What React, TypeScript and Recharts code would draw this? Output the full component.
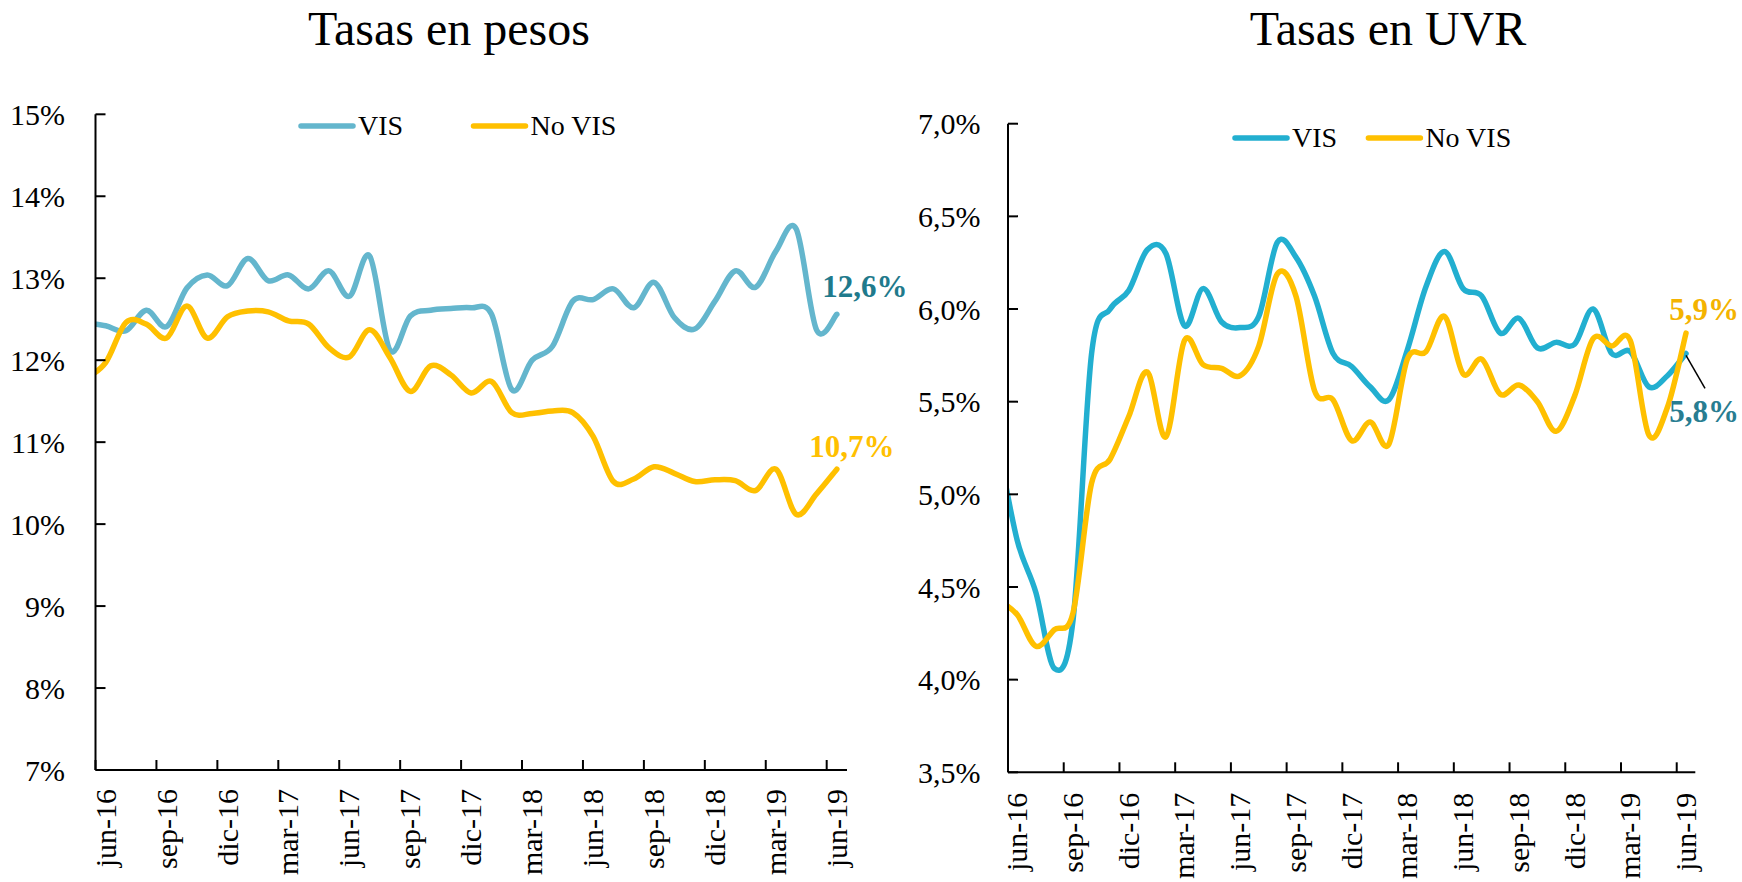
import React from 'react';
import { LineChart, Line, XAxis, YAxis, Legend } from 'recharts';

const FONT = "'Liberation Serif', serif";

// meses: may-16 solo existe para que la curva entre recortada por el eje
const months = [
  'may-16', 'jun-16', 'jul-16', 'ago-16', 'sep-16', 'oct-16', 'nov-16', 'dic-16',
  'ene-17', 'feb-17', 'mar-17', 'abr-17', 'may-17', 'jun-17', 'jul-17', 'ago-17', 'sep-17', 'oct-17', 'nov-17', 'dic-17',
  'ene-18', 'feb-18', 'mar-18', 'abr-18', 'may-18', 'jun-18', 'jul-18', 'ago-18', 'sep-18', 'oct-18', 'nov-18', 'dic-18',
  'ene-19', 'feb-19', 'mar-19', 'abr-19', 'may-19', 'jun-19',
];

const tickLabels = [
  'jun-16', 'sep-16', 'dic-16', 'mar-17', 'jun-17', 'sep-17', 'dic-17',
  'mar-18', 'jun-18', 'sep-18', 'dic-18', 'mar-19', 'jun-19',
];

const seriesNames = ['VIS', 'No VIS'];

// Tasas en pesos (%)
const visPesos = [
  12.46, 12.42, 12.36, 12.61, 12.41, 12.88, 13.04, 12.91,
  13.24, 12.97, 13.04, 12.87, 13.09, 12.78, 13.27, 12.12, 12.54, 12.61, 12.63, 12.64,
  12.56, 11.64, 12.0, 12.17, 12.72, 12.74, 12.87, 12.64, 12.95, 12.52, 12.38, 12.72,
  13.09, 12.89, 13.33, 13.6, 12.37, 12.56,
];
const noVisPesos = [
  11.77, 11.97, 12.46, 12.44, 12.27, 12.66, 12.27, 12.53,
  12.6, 12.59, 12.48, 12.44, 12.15, 12.04, 12.37, 12.03, 11.62, 11.93, 11.82, 11.6,
  11.74, 11.36, 11.35, 11.38, 11.36, 11.07, 10.52, 10.55, 10.7, 10.62, 10.52, 10.54,
  10.53, 10.41, 10.67, 10.12, 10.37, 10.67,
];

// Tasas en UVR (%)
const visUvr = [
  5.25, 4.75, 4.47, 4.06, 4.32, 5.76, 6.0, 6.1,
  6.32, 6.3, 5.91, 6.11, 5.93, 5.9, 5.96, 6.36, 6.28, 6.07, 5.76, 5.69,
  5.58, 5.51, 5.78, 6.12, 6.31, 6.11, 6.07, 5.87, 5.95, 5.79, 5.82, 5.81,
  6.0, 5.76, 5.77, 5.58, 5.64, 5.76,
];
const noVisUvr = [
  4.43, 4.35, 4.18, 4.27, 4.36, 5.06, 5.19, 5.42,
  5.66, 5.31, 5.83, 5.7, 5.68, 5.64, 5.8, 6.19, 6.07, 5.56, 5.51, 5.29,
  5.39, 5.27, 5.73, 5.77, 5.96, 5.65, 5.73, 5.54, 5.59, 5.5, 5.34, 5.53,
  5.84, 5.8, 5.83, 5.32, 5.47, 5.87,
];

const pesosTicks = [7, 8, 9, 10, 11, 12, 13, 14, 15];
const uvrTicks = [3.5, 4, 4.5, 5, 5.5, 6, 6.5, 7];

// cada mes ocupa una banda [k, k+1]; el dato va en el centro
const buildRows = (vis: number[], noVis: number[]) =>
  months.map((mes, i) => ({ mes, pos: i - 0.5, vis: vis[i], noVis: noVis[i] }));

const edgeTicks = tickLabels.map((_, j) => j * 3);

const comma = (v: number, d: number) => v.toFixed(d).replace('.', ',');

// suavizado tipo Excel (Catmull-Rom)
function excelCurve(context: any) {
  let pts: number[][] = [];
  return {
    areaStart() {},
    areaEnd() {},
    lineStart() {
      pts = [];
    },
    point(x: number, y: number) {
      pts.push([+x, +y]);
    },
    lineEnd() {
      const n = pts.length;
      if (!n) return;
      context.moveTo(pts[0][0], pts[0][1]);
      for (let i = 0; i < n - 1; i++) {
        const p0 = pts[Math.max(i - 1, 0)];
        const p1 = pts[i];
        const p2 = pts[i + 1];
        const p3 = pts[Math.min(i + 2, n - 1)];
        context.bezierCurveTo(
          p1[0] + (p2[0] - p0[0]) / 6,
          p1[1] + (p2[1] - p0[1]) / 6,
          p2[0] - (p3[0] - p1[0]) / 6,
          p2[1] - (p3[1] - p1[1]) / 6,
          p2[0],
          p2[1]
        );
      }
    },
  };
}

const MonthTick = (props: any) => {
  const { x, y, payload, half } = props;
  const cx = x + half;
  return (
    <text
      x={cx}
      y={y}
      dy={10}
      transform={`rotate(-90 ${cx} ${y})`}
      textAnchor="end"
      fontFamily={FONT}
      fontSize={30}
      fill="#000"
    >
      {tickLabels[Math.round(payload.value / 3)]}
    </text>
  );
};

const LegendBox = (props: any) => {
  const { payload, offsets } = props;
  // el orden de la leyenda sigue al de las series, no al alfabético
  const items = seriesNames
    .map((name) => (payload || []).find((e: any) => e.value === name))
    .filter(Boolean);
  return (
    <svg width={420} height={40} style={{ overflow: 'visible', display: 'block' }}>
      {items.map((e: any, i: number) => (
        <g key={e.value} transform={`translate(${offsets[i]},0)`}>
          <line x1={2} x2={54} y1={20} y2={20} stroke={e.color} strokeWidth={5.5} strokeLinecap="round" />
          <text x={59} y={29} fontFamily={FONT} fontSize={28} fill="#000">
            {e.value}
          </text>
        </g>
      ))}
    </svg>
  );
};

const endLabel = (color: string, dx: number, dy: number, leader?: boolean) => (props: any) => {
  const { index, value } = props;
  if (index !== months.length - 1) return null;
  const x = props.x ?? props.viewBox?.x;
  const y = props.y ?? props.viewBox?.y;
  return (
    <g>
      {leader && <line x1={x} y1={y + 2} x2={x + 19} y2={y + 35} stroke="#000" strokeWidth={1.5} />}
      <text x={x + dx} y={y + dy} textAnchor="middle" fontFamily={FONT} fontSize={31} fontWeight="bold" fill={color}>
        {comma(value, 1)}%
      </text>
    </g>
  );
};

const axisStroke = { stroke: '#000', strokeWidth: 2 };

export default function App() {
  const pesosRows = buildRows(visPesos, noVisPesos);
  const uvrRows = buildRows(visUvr, noVisUvr);

  return (
    <div style={{ position: 'absolute', left: 0, top: 0, width: 1742, height: 882, background: '#fff', overflow: 'hidden' }}>
      <svg width={1742} height={882} style={{ position: 'absolute', left: 0, top: 0 }}>
        <text x={449} y={45} textAnchor="middle" fontFamily={FONT} fontSize={48} fill="#000">
          Tasas en pesos
        </text>
        <text x={1388} y={45} textAnchor="middle" fontFamily={FONT} fontSize={48} fill="#000">
          Tasas en UVR
        </text>
      </svg>

      <div style={{ position: 'absolute', left: 0, top: 0 }}>
        <LineChart width={930} height={882} data={pesosRows} margin={{ top: 114.3, right: 83, bottom: 0, left: 5.5 }}>
          <XAxis
            dataKey="pos"
            type="number"
            domain={[0, 37]}
            allowDataOverflow
            ticks={edgeTicks}
            interval={0}
            height={112}
            tickSize={-10}
            tickMargin={29}
            axisLine={axisStroke}
            tickLine={axisStroke}
            tick={<MonthTick half={10.16} />}
          />
          <YAxis
            type="number"
            domain={[7, 15]}
            ticks={pesosTicks}
            interval={0}
            width={90}
            tickSize={-10}
            tickMargin={40.5}
            axisLine={axisStroke}
            tickLine={axisStroke}
            tick={{ fill: '#000', fontSize: 30, fontFamily: FONT }}
            tickFormatter={(v: number) => `${v}%`}
          />
          <Legend
            layout="horizontal"
            verticalAlign="middle"
            align="center"
            wrapperStyle={{ position: 'absolute', left: 299, top: 105.5, width: 420, height: 40 }}
            content={<LegendBox offsets={[0, 172.5]} />}
          />
          <Line
            type={excelCurve as any}
            dataKey="vis"
            name="VIS"
            stroke="#64B6CD"
            strokeWidth={5.5}
            strokeLinecap="round"
            strokeLinejoin="round"
            dot={false}
            activeDot={false}
            isAnimationActive={false}
            label={endLabel('#1F7A8C', 28, -17.6)}
          />
          <Line
            type={excelCurve as any}
            dataKey="noVis"
            name="No VIS"
            stroke="#FFC000"
            strokeWidth={5.5}
            strokeLinecap="round"
            strokeLinejoin="round"
            dot={false}
            activeDot={false}
            isAnimationActive={false}
            label={endLabel('#FFC000', 15, -12.3)}
          />
        </LineChart>
      </div>

      <div style={{ position: 'absolute', left: 880, top: 0 }}>
        <LineChart width={862} height={882} data={uvrRows} margin={{ top: 123.7, right: 46.7, bottom: 0, left: 38 }}>
          <XAxis
            dataKey="pos"
            type="number"
            domain={[0, 37]}
            allowDataOverflow
            ticks={edgeTicks}
            interval={0}
            height={109.7}
            tickSize={-10}
            tickMargin={30.4}
            axisLine={axisStroke}
            tickLine={axisStroke}
            tick={<MonthTick half={9.29} />}
          />
          <YAxis
            type="number"
            domain={[3.5, 7]}
            ticks={uvrTicks}
            interval={0}
            width={90}
            tickSize={-10}
            tickMargin={37.4}
            axisLine={axisStroke}
            tickLine={axisStroke}
            tick={{ fill: '#000', fontSize: 30, fontFamily: FONT }}
            tickFormatter={(v: number) => `${comma(v, 1)}%`}
          />
          <Legend
            layout="horizontal"
            verticalAlign="middle"
            align="center"
            wrapperStyle={{ position: 'absolute', left: 352.6, top: 117.5, width: 420, height: 40 }}
            content={<LegendBox offsets={[0, 133.4]} />}
          />
          <Line
            type={excelCurve as any}
            dataKey="vis"
            name="VIS"
            stroke="#22AFD0"
            strokeWidth={5.5}
            strokeLinecap="round"
            strokeLinejoin="round"
            dot={false}
            activeDot={false}
            isAnimationActive={false}
            label={endLabel('#287D91', 18, 69, true)}
          />
          <Line
            type={excelCurve as any}
            dataKey="noVis"
            name="No VIS"
            stroke="#FFC000"
            strokeWidth={5.5}
            strokeLinecap="round"
            strokeLinejoin="round"
            dot={false}
            activeDot={false}
            isAnimationActive={false}
            label={endLabel('#F4B300', 18, -13.4)}
          />
        </LineChart>
      </div>
    </div>
  );
}
